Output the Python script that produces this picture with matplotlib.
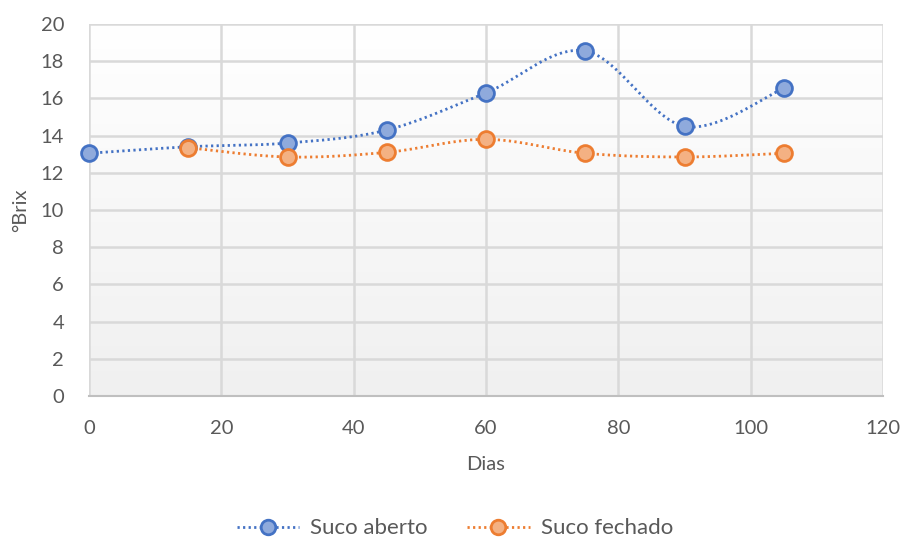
import numpy as np
import matplotlib
matplotlib.use("Agg")
import matplotlib.pyplot as plt
from matplotlib.lines import Line2D

plt.rcParams['font.family'] = ['Lato', 'DejaVu Sans']

dias_aberto = [0, 15, 30, 45, 60, 75, 90, 105]
brix_aberto = [13.05, 13.4, 13.6, 14.3, 16.3, 18.55, 14.5, 16.55]
dias_fechado = [15, 30, 45, 60, 75, 90, 105]
brix_fechado = [13.35, 12.85, 13.1, 13.8, 13.05, 12.85, 13.05]

x_ticks = [0, 20, 40, 60, 80, 100, 120]
y_ticks = [0, 2, 4, 6, 8, 10, 12, 14, 16, 18, 20]

TEXT = '#595959'
DOTS = (0, (0.8, 1.2))


def smooth(x, y, n=40):
    """Catmull-Rom style smoothing through every point (office-chart look)."""
    x = np.asarray(x, float)
    y = np.asarray(y, float)
    px = np.concatenate([[x[0]], x, [x[-1]]])
    py = np.concatenate([[y[0]], y, [y[-1]]])
    xs, ys = [], []
    t = np.linspace(0, 1, n)
    for i in range(1, len(px) - 2):
        p0 = np.array([px[i], py[i]])
        p3 = np.array([px[i + 1], py[i + 1]])
        c1 = p0 + (np.array([px[i + 1], py[i + 1]]) - np.array([px[i - 1], py[i - 1]])) / 6
        c2 = p3 - (np.array([px[i + 2], py[i + 2]]) - np.array([px[i], py[i]])) / 6
        b = ((1 - t) ** 3)[:, None] * p0 + (3 * (1 - t) ** 2 * t)[:, None] * c1 \
            + (3 * (1 - t) * t ** 2)[:, None] * c2 + (t ** 3)[:, None] * p3
        xs.append(b[:, 0])
        ys.append(b[:, 1])
    return np.concatenate(xs), np.concatenate(ys)


fig = plt.figure(figsize=(9.04, 5.42), dpi=100)
ax = fig.add_axes([0.0985, 0.2694, 0.8783, 0.6863])

# soft vertical gradient in the plotting area: white on top, light grey below
grad = np.linspace(0, 1, 256)[:, None]
cmap = matplotlib.colors.LinearSegmentedColormap.from_list('bg', ['#ffffff', '#f0f0f0'])
ax.imshow(grad, aspect='auto', cmap=cmap, extent=[0, 1, 0, 1], origin='upper',
          transform=ax.transAxes, zorder=0)

ax.set_xlim(0, 120)
ax.set_ylim(0, 20)
ax.set_xticks(x_ticks)
ax.set_yticks(y_ticks)
ax.grid(True, color='#d9d9d9', linewidth=1.8, zorder=1)
ax.set_axisbelow(True)
for side in ['top', 'right', 'left']:
    ax.spines[side].set_visible(False)
ax.spines['bottom'].set_color('#bfbfbf')
ax.spines['bottom'].set_linewidth(1.5)
ax.tick_params(length=0, labelsize=14.5, colors=TEXT)
ax.tick_params(axis='x', pad=17)
ax.tick_params(axis='y', pad=18)

series = [
    (dias_aberto, brix_aberto, '#4472c4', '#8faadc', 'Suco aberto'),
    (dias_fechado, brix_fechado, '#ed7d31', '#f4b183', 'Suco fechado'),
]
handles = []
for i, (xd, yd, edge, face, name) in enumerate(series):
    sx, sy = smooth(xd, yd)
    ax.plot(sx, sy, color=edge, linestyle=DOTS, linewidth=2,
            zorder=3 + 2 * i, clip_on=False)
    ax.scatter(xd, yd, s=130, facecolor=face, edgecolor=edge, linewidths=2,
               zorder=4 + 2 * i, clip_on=False)
    handles.append(Line2D([0], [0], color=edge, linestyle=DOTS, linewidth=2,
                          marker='o', markersize=10.5, markerfacecolor=face,
                          markeredgecolor=edge, markeredgewidth=2, label=name))

ax.set_xlabel('Dias', fontsize=14.5, color=TEXT, labelpad=14)
ax.set_ylabel('°Brix', fontsize=14.5, color=TEXT, labelpad=8)

fig.legend(handles=handles, loc='center', bbox_to_anchor=(0.503, 0.025),
           ncol=2, frameon=False, fontsize=16, labelcolor=TEXT,
           handlelength=2.8, columnspacing=1.8, handletextpad=0.5,
           borderpad=0.2)

fig.savefig('out.png', dpi=100, facecolor='white')
